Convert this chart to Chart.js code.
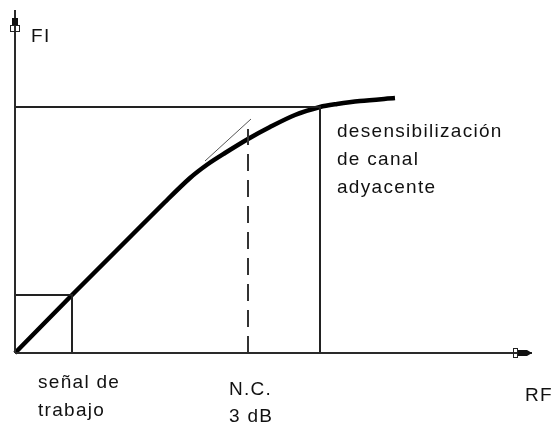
<!DOCTYPE html>
<html lang="es">
  <head>
    <meta charset="UTF-8" />
    <title>FI vs RF - desensibilización</title>
    <script src="https://cdn.jsdelivr.net/npm/chart.js"></script>
    <style>
      html, body { margin: 0; padding: 0; background: #fff; }
      #wrap { width: 551px; height: 423px; position: relative; }
    </style>
  </head>
  <body>
    <div id="wrap"><canvas id="chart"></canvas></div>

    <script>
      // curva de transferencia (RF -> FI), unidades arbitrarias
      const curveRF = [0, 5.7, 10, 15, 17.5, 19.3, 21, 23.3, 25.5, 28, 30.5, 32.2, 34.5, 38];
      const curveFI = [0, 5.8, 10.1, 15.1, 17.5, 18.9, 20.0, 21.4, 22.6, 23.8, 24.6, 24.9, 25.2, 25.5];

      // tangente lineal
      const tangentRF = [19, 23.6];
      const tangentFI = [19.2, 23.4];

      // puntos notables
      const workRF = 5.7, workFI = 5.8;      // señal de trabajo
      const ncRF = 23.3, ncTop = 22.4;       // N.C. 3 dB
      const desRF = 30.5, desFI = 24.6;      // desensibilización

      // ejes
      const axisXMax = 51.7;
      const axisYMax = 34.3;

      // textos [texto, rf, fi]
      const labels = [
        ["FI", 1.6, 31.1],
        ["desensibilización", 32.2, 21.6],
        ["de canal", 32.2, 18.8],
        ["adyacente", 32.2, 16.0],
        ["señal de", 2.3, -3.5],
        ["trabajo", 2.3, -6.3],
        ["N.C.", 21.4, -4.2],
        ["3 dB", 21.4, -6.9],
        ["RF", 51.0, -4.8],
      ];

      const toPts = (xs, ys) => xs.map((x, i) => ({ x: x, y: ys[i] }));

      const line = (data, width, color, extra) =>
        Object.assign(
          {
            data: data,
            borderColor: color,
            borderWidth: width,
            pointRadius: 0,
            showLine: true,
            fill: false,
            clip: false,
          },
          extra || {}
        );

      const decorPlugin = {
        id: "decor",
        afterDatasetsDraw(chart) {
          const ctx = chart.ctx;
          const sx = chart.scales.x;
          const sy = chart.scales.y;
          ctx.save();

          // punta del eje Y
          const yx = sx.getPixelForValue(0);
          const yt = sy.getPixelForValue(axisYMax);
          ctx.fillStyle = "#111";
          ctx.fillRect(yx - 3, yt + 8, 6, 8);
          ctx.strokeStyle = "#222";
          ctx.lineWidth = 1;
          ctx.strokeRect(yx - 4.5, yt + 15.5, 9, 6);

          // punta del eje X
          const xr = sx.getPixelForValue(axisXMax);
          const xy = sy.getPixelForValue(0);
          ctx.beginPath();
          ctx.moveTo(xr - 15, xy - 3);
          ctx.lineTo(xr - 5, xy - 3);
          ctx.lineTo(xr, xy);
          ctx.lineTo(xr - 5, xy + 3);
          ctx.lineTo(xr - 15, xy + 3);
          ctx.closePath();
          ctx.fill();
          ctx.strokeRect(xr - 18.5, xy - 4.5, 4, 9);

          // textos
          ctx.fillStyle = "#111";
          ctx.font = "19px 'Liberation Sans', Arial, sans-serif";
          ctx.letterSpacing = "1.3px";
          ctx.textBaseline = "alphabetic";
          labels.forEach(([t, x, y]) => {
            ctx.fillText(t, sx.getPixelForValue(x), sy.getPixelForValue(y));
          });
          ctx.restore();
        },
      };

      new Chart(document.getElementById("chart"), {
        type: "scatter",
        data: {
          datasets: [
            // ejes
            line([{ x: 0, y: 0 }, { x: 0, y: axisYMax }], 2, "#2a2a2a"),
            line([{ x: 0, y: 0 }, { x: axisXMax, y: 0 }], 2, "#2a2a2a"),
            // nivel de saturación y desensibilización
            line([{ x: 0, y: desFI }, { x: desRF, y: desFI }, { x: desRF, y: 0 }], 2, "#222"),
            // señal de trabajo
            line([{ x: 0, y: workFI }, { x: workRF, y: workFI }, { x: workRF, y: 0 }], 2, "#222"),
            // N.C. 3 dB
            line([{ x: ncRF, y: 0 }, { x: ncRF, y: ncTop }], 2, "#333", { borderDash: [17, 9] }),
            // tangente
            line(toPts(tangentRF, tangentFI), 1, "#555"),
            // curva
            line(toPts(curveRF, curveFI), 4.5, "#000", { tension: 0.3 }),
          ],
        },
        options: {
          responsive: true,
          maintainAspectRatio: false,
          animation: false,
          layout: { padding: { left: 15, right: 6, top: 10, bottom: 70 } },
          plugins: { legend: { display: false }, tooltip: { enabled: false } },
          scales: {
            x: { type: "linear", min: 0, max: 53, display: false },
            y: { type: "linear", min: 0, max: 34.3, display: false },
          },
        },
        plugins: [decorPlugin],
      });
    </script>
  </body>
</html>
